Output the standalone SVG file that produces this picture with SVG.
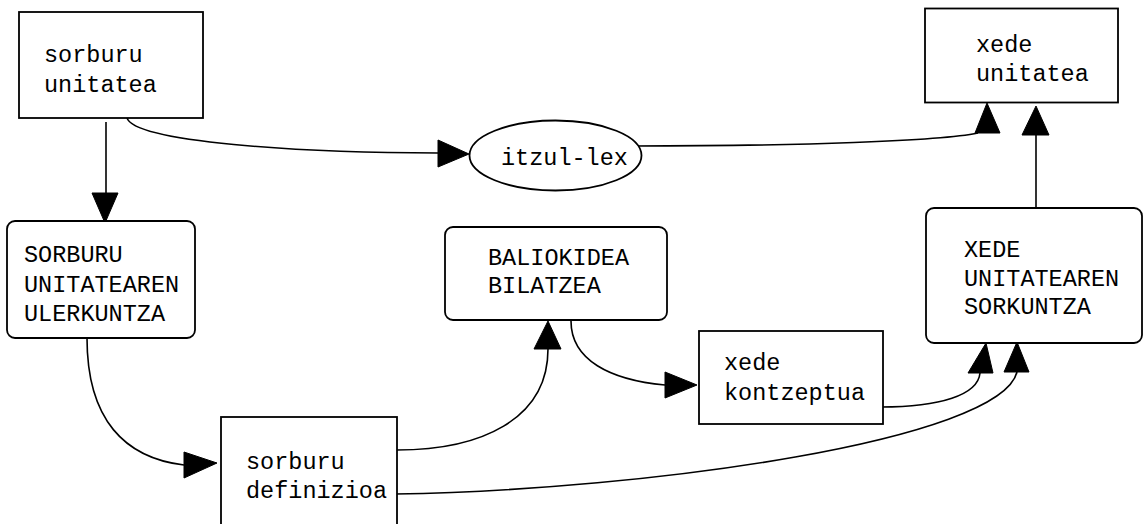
<svg xmlns="http://www.w3.org/2000/svg" width="1144" height="524" viewBox="0 0 1144 524">
<style>
.box{fill:#fff;stroke:#000;stroke-width:1.8}
.lbl{font-family:"Liberation Mono","Courier New",monospace;font-size:23.5px;fill:#000}
.edge{fill:none;stroke:#000;stroke-width:1.6}
.head{fill:#000;stroke:#000;stroke-width:1}
</style>
<rect width="1144" height="524" fill="#fff"/>
<g id="connectors">
<path class="edge" d="M106,122 L106,193"/>
<polygon class="head" points="92,193 118,193 105,223"/>
<path class="edge" d="M127,118 C135,142 300,153 438,153"/>
<polygon class="head" points="438,140 438,167 469,154"/>
<path class="edge" d="M633,146 C800,146 940,141 978,133"/>
<polygon class="head" points="975,133 1000,133 987,103"/>
<path class="edge" d="M1036,208 L1036,135"/>
<polygon class="head" points="1022,135 1049,135 1036,106"/>
<path class="edge" d="M87,338 C87,420 125,458 184,465"/>
<polygon class="head" points="184,452 184,478 217,463"/>
<path class="edge" d="M397,450 C480,450 548,420 548,349"/>
<polygon class="head" points="534,349 561,349 548,321"/>
<path class="edge" d="M571,321 C571,360 610,380 665,385"/>
<polygon class="head" points="665,372 665,398 697,385"/>
<path class="edge" d="M881,407 C940,407 978,395 980,373"/>
<polygon class="head" points="968,373 993,373 986,343"/>
<path class="edge" d="M395,494 C650,490 1000,440 1017,372"/>
<polygon class="head" points="1004,372 1029,372 1017,342"/>
</g>
<g id="n1">
<rect class="box" x="19" y="12" width="184" height="106"/>
<text class="lbl" x="44" y="62">sorburu</text>
<text class="lbl" x="44" y="92">unitatea</text>
</g>
<g id="n2">
<rect class="box" x="7" y="221" width="188" height="117" rx="8"/>
<text class="lbl" x="24" y="262">SORBURU</text>
<text class="lbl" x="24" y="291.5">UNITATEAREN</text>
<text class="lbl" x="24" y="321">ULERKUNTZA</text>
</g>
<g id="n3">
<ellipse class="box" cx="555.5" cy="155.5" rx="86" ry="35"/>
<text class="lbl" x="501" y="165">itzul-lex</text>
</g>
<g id="n4">
<rect class="box" x="925" y="8.5" width="193" height="94"/>
<text class="lbl" x="976" y="52">xede</text>
<text class="lbl" x="976" y="81">unitatea</text>
</g>
<g id="n5">
<rect class="box" x="445" y="227" width="222" height="93" rx="8"/>
<text class="lbl" x="488" y="265">BALIOKIDEA</text>
<text class="lbl" x="488" y="293">BILATZEA</text>
</g>
<g id="n6">
<rect class="box" x="699" y="331" width="184" height="93"/>
<text class="lbl" x="724" y="370">xede</text>
<text class="lbl" x="724" y="400">kontzeptua</text>
</g>
<g id="n7">
<rect class="box" x="926" y="208" width="216" height="135" rx="8"/>
<text class="lbl" x="964" y="257">XEDE</text>
<text class="lbl" x="964" y="285.5">UNITATEAREN</text>
<text class="lbl" x="964" y="314">SORKUNTZA</text>
</g>
<g id="n8">
<rect class="box" x="221" y="417" width="176" height="120"/>
<text class="lbl" x="246" y="469">sorburu</text>
<text class="lbl" x="246" y="498">definizioa</text>
</g>
</svg>
